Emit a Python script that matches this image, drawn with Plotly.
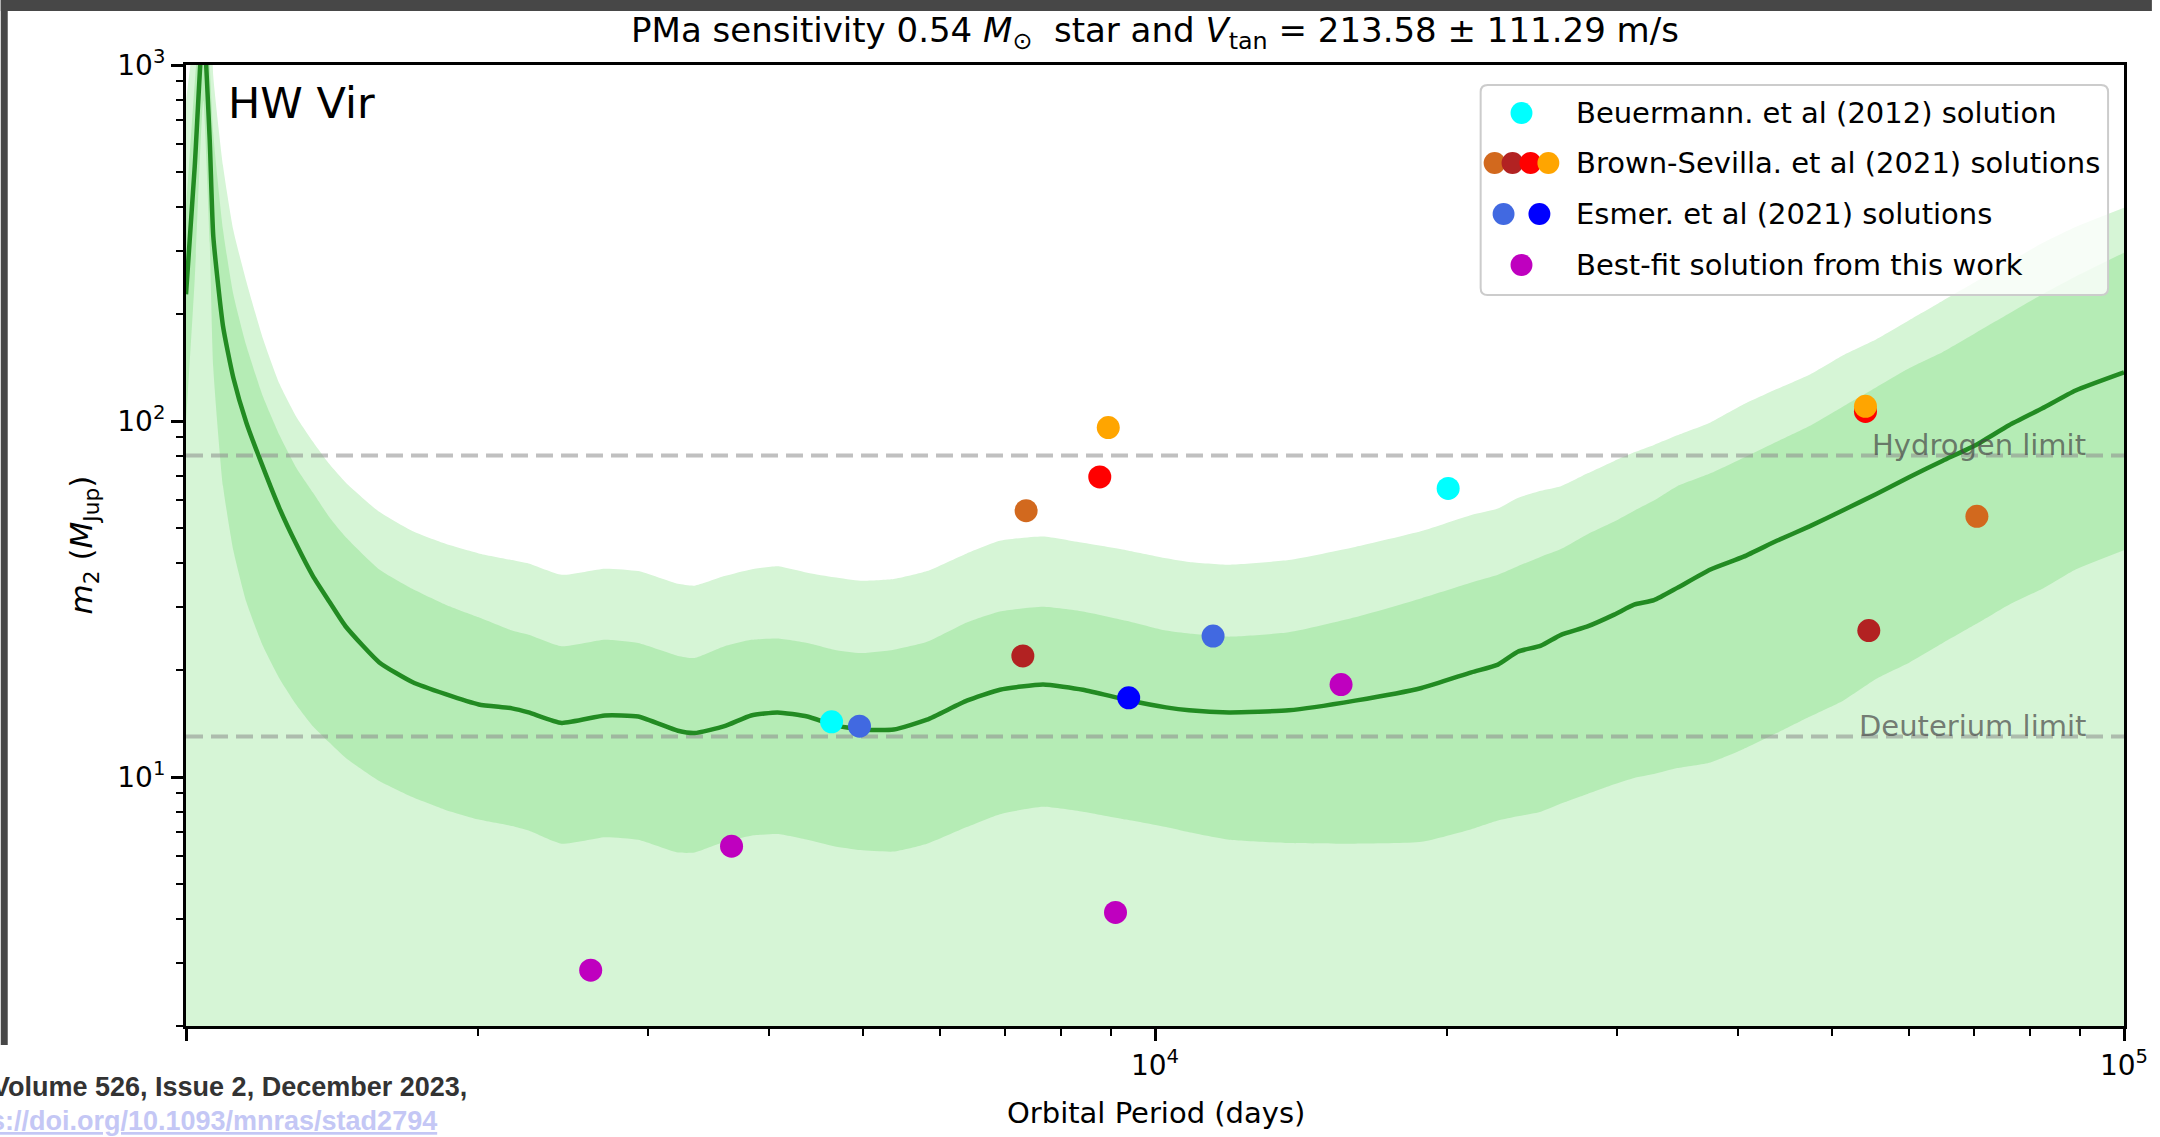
import math
import plotly.graph_objects as go

# ---------------- sensitivity curve (orbital period in days, mass in M_Jup) ----------------
period_days = [1000, 1021, 1042, 1058, 1067, 1092, 1119, 1154, 1201, 1249, 1299, 1352,
               1406, 1463, 1583, 1712, 1853, 2005, 2170, 2257, 2442, 2706, 2928, 3219,
               3348, 3595, 3830, 4078, 4378, 4664, 4968, 5375, 5817, 6394, 6918, 7664,
               8425, 9337, 10264,
               10846, 11926, 13740, 16090, 18840, 21210, 22590, 23680, 25020, 26240, 27950,
               29780, 31220, 32730,
               34590, 37430, 40500, 43820, 47420, 51300, 55520, 60070, 65010, 70350, 76100,
               82370, 89130, 100000]

mass_median = [227, 520, 1318, 614, 330, 184.5, 132.4, 99.1, 74.1, 56.8, 45.2, 36.7,
               31.1, 26.4, 21.0, 18.5, 17.1, 16.0, 15.6, 15.2, 14.2, 14.9, 14.8, 13.5,
               13.3, 13.9, 14.9, 15.2, 14.8, 14.0, 13.6, 13.6, 14.5, 16.4, 17.6, 18.2,
               17.6, 16.5, 15.7,
               15.4, 15.2, 15.4, 16.4, 17.8, 19.7, 20.7, 22.5, 23.4, 25.1, 26.5,
               28.6, 30.5, 31.4,
               34.0, 38.3, 41.6, 46.1, 50.7, 56.2, 62.4, 69.7, 77.4, 85.7, 97.3,
               108.6, 121.9, 137.1]

mass_1sig_hi = [398, 891, 1778, 1000, 640, 344, 227, 163, 117, 91.2, 74.1, 63.0,
                53.7, 47.1, 38.3, 33.8, 30.5, 28.1, 25.8, 25.1, 23.3, 24.3, 23.8, 21.9,
                21.6, 23.3, 24.3, 24.5, 23.8, 22.8, 22.3, 22.8, 24.0, 27.2, 29.2, 30.1,
                29.2, 27.5, 25.8,
                25.3, 24.8, 25.5, 28.1, 31.8, 35.2, 37.0, 39.1, 41.6, 43.7, 48.1,
                52.2, 56.0, 59.8,
                65.6, 71.3, 78.9, 87.5, 97.0, 109.9, 124.5, 140.9, 156.3, 177.0, 200.4,
                227.0, 254.7, 297.2]

mass_1sig_lo = [100, 251, 794, 316, 141, 65.6, 43.4, 31.1, 23.3, 18.9, 16.0, 13.9,
                12.5, 11.3, 9.75, 8.79, 8.09, 7.60, 7.29, 7.08, 6.50, 6.78, 6.67, 6.14,
                6.14, 6.58, 6.85, 6.92, 6.67, 6.40, 6.24, 6.18, 6.50, 7.24, 7.87, 8.26,
                8.00, 7.60, 7.24,
                7.00, 6.67, 6.53, 6.50, 6.58, 7.14, 7.55, 7.76, 8.00, 8.43, 8.97,
                9.55, 9.95, 10.2,
                10.6, 11.0, 12.0, 13.3, 14.8, 16.4, 18.9, 21.0, 23.8, 26.9, 30.5,
                33.8, 38.3, 43.4]

mass_2sig_hi = [794, 1259, 1995, 1585, 929, 520, 344, 247, 170, 127, 103, 87.5,
                75.7, 67.0, 55.6, 49.1, 45.2, 42.5, 40.7, 39.8, 37.0, 38.5, 37.9, 34.9,
                34.5, 36.7, 38.3, 39.1, 37.5, 36.4, 35.6, 36.0, 37.9, 42.5, 46.1, 47.4,
                45.5, 43.4, 41.2,
                40.2, 39.5, 40.7, 44.3, 49.1, 54.5, 56.8, 60.8, 63.7, 65.6, 71.3,
                77.3, 81.7, 85.7,
                91.2, 99.1, 111.4, 123.0, 135.2, 153.1, 169.8, 192.3, 217.8, 246.6, 279.3,
                316.2, 350.8, 397.2]

# ---------------- published and best-fit companion solutions ----------------
beuermann_period = [4637, 20070]
beuermann_mass = [14.3, 64.7]

brown_colors = ["chocolate", "firebrick", "red", "orange"]
brown_period = [[7362, 70500], [7305, 54530], [8770, 54100], [8949, 54100]]
brown_mass = [[56.0, 54.0], [21.9, 25.8], [69.7, 106.4], [95.9, 110.0]]

esmer_colors = ["royalblue", "blue"]
esmer_period = [[4955, 11480], [9394]]
esmer_mass = [[13.9, 24.9], [16.7]]

bestfit_period = [2616, 3656, 9104, 15560]
bestfit_mass = [2.87, 6.40, 4.17, 18.2]

HYDROGEN_LIMIT = 80.0
DEUTERIUM_LIMIT = 13.0

x_ticks = [1e3, 1e4, 1e5]
x_ticklabels = ["", "10<sup>4</sup>", "10<sup>5</sup>"]
y_ticks = [10, 100, 1000]
y_ticklabels = ["10<sup>1</sup>", "10<sup>2</sup>", "10<sup>3</sup>"]

legend_labels = ["Beuermann. et al (2012) solution",
                 "Brown-Sevilla. et al (2021) solutions",
                 "Esmer. et al (2021) solutions",
                 "Best-fit solution from this work"]

# ---------------- page geometry (pixels) ----------------
W, H = 2160, 1137
ML, MR, MT, MB = 186, 28, 65, 111
PW, PH = W - ML - MR, H - MT - MB
FONT = "DejaVu Sans"
MAGENTA = "#BF00BF"
LIGHT_GREEN = "rgb(214,245,214)"
MID_GREEN = "rgb(181,236,181)"
LINE_GREEN = "#228B22"
SMOOTH = dict(shape="spline", smoothing=0.5)


def px(xp):
    return (xp - ML) / PW


def py(yp):
    return (MT + PH - yp) / PH


fig = go.Figure()

# outer (2-sigma) envelope, filled down to the bottom of the axes
fig.add_trace(go.Scatter(x=period_days, y=mass_2sig_hi, mode="lines", line=dict(width=0, **SMOOTH),
                         fill="tozeroy", fillcolor=LIGHT_GREEN, hoverinfo="skip", showlegend=False))
# inner (1-sigma) envelope
fig.add_trace(go.Scatter(x=period_days, y=mass_1sig_lo, mode="lines", line=dict(width=0, **SMOOTH),
                         hoverinfo="skip", showlegend=False))
fig.add_trace(go.Scatter(x=period_days, y=mass_1sig_hi, mode="lines", line=dict(width=0, **SMOOTH),
                         fill="tonexty", fillcolor=MID_GREEN, hoverinfo="skip", showlegend=False))

# hydrogen / deuterium burning limits
for lim in (HYDROGEN_LIMIT, DEUTERIUM_LIMIT):
    fig.add_trace(go.Scatter(x=[x_ticks[0], x_ticks[-1]], y=[lim, lim], mode="lines",
                             line=dict(color="rgba(140,140,140,0.55)", width=4, dash="17px,8px"),
                             hoverinfo="skip", showlegend=False))

# median sensitivity curve
fig.add_trace(go.Scatter(x=period_days, y=mass_median, mode="lines",
                         line=dict(color=LINE_GREEN, width=4.5, **SMOOTH), showlegend=False))

MSIZE = 23
fig.add_trace(go.Scatter(x=beuermann_period, y=beuermann_mass, mode="markers",
                         marker=dict(color="cyan", size=MSIZE), showlegend=False))
for c, p, m in zip(brown_colors, brown_period, brown_mass):
    fig.add_trace(go.Scatter(x=p, y=m, mode="markers", marker=dict(color=c, size=MSIZE),
                             showlegend=False))
for c, p, m in zip(esmer_colors, esmer_period, esmer_mass):
    fig.add_trace(go.Scatter(x=p, y=m, mode="markers", marker=dict(color=c, size=MSIZE),
                             showlegend=False))
fig.add_trace(go.Scatter(x=bestfit_period, y=bestfit_mass, mode="markers",
                         marker=dict(color=MAGENTA, size=MSIZE), showlegend=False))

shapes = []
annotations = []

# dark frame strips at the top and left of the page
shapes.append(dict(type="rect", xref="paper", yref="paper", x0=px(0), x1=px(W), y0=py(11), y1=py(0),
                   fillcolor="#474747", line=dict(width=0), layer="above"))
shapes.append(dict(type="rect", xref="paper", yref="paper", x0=px(0), x1=px(7), y0=py(1045), y1=py(0),
                   fillcolor="#474747", line=dict(width=0), layer="above"))

# hand-built legend box with rounded corners
lx0, lx1, ly0, ly1, rad = 1486, 2116, 85, 295, 7
path = (f"M {px(lx0 + rad)},{py(ly0)} L {px(lx1 - rad)},{py(ly0)} "
        f"Q {px(lx1)},{py(ly0)} {px(lx1)},{py(ly0 + rad)} L {px(lx1)},{py(ly1 - rad)} "
        f"Q {px(lx1)},{py(ly1)} {px(lx1 - rad)},{py(ly1)} L {px(lx0 + rad)},{py(ly1)} "
        f"Q {px(lx0)},{py(ly1)} {px(lx0)},{py(ly1 - rad)} L {px(lx0)},{py(ly0 + rad)} "
        f"Q {px(lx0)},{py(ly0)} {px(lx0 + rad)},{py(ly0)} Z")
shapes.append(dict(type="path", xref="paper", yref="paper", path=path,
                   fillcolor="rgba(255,255,255,0.8)", line=dict(color="#cccccc", width=2),
                   layer="above"))

legend_rows_y = [113, 163, 214, 265]
legend_glyphs = [
    [(1527, "cyan")],
    [(1500, "chocolate"), (1518, "firebrick"), (1536, "red"), (1554, "orange")],
    [(1509, "royalblue"), (1545, "blue")],
    [(1527, MAGENTA)],
]
r = 11
for yrow, glyphs, label in zip(legend_rows_y, legend_glyphs, legend_labels):
    for gx, gc in glyphs:
        shapes.append(dict(type="circle", xref="paper", yref="paper",
                           x0=px(gx - r), x1=px(gx + r), y0=py(yrow + r), y1=py(yrow - r),
                           fillcolor=gc, line=dict(width=0), layer="above"))
    annotations.append(dict(text=label, xref="paper", yref="paper", x=px(1580), y=py(yrow),
                            xanchor="left", yanchor="middle", showarrow=False,
                            font=dict(family=FONT, size=29, color="black")))

# limit labels
for lim, name in ((HYDROGEN_LIMIT, "Hydrogen limit"), (DEUTERIUM_LIMIT, "Deuterium limit")):
    annotations.append(dict(text=name, xref="paper", yref="y", x=px(2096), y=math.log10(lim),
                            xanchor="right", yanchor="bottom", yshift=-8, showarrow=False,
                            font=dict(family=FONT, size=29, color="rgba(70,70,70,0.7)")))

# target name
annotations.append(dict(text="HW Vir", xref="paper", yref="paper", x=px(226), y=py(103),
                        xanchor="left", yanchor="middle", showarrow=False,
                        font=dict(family=FONT, size=43, color="black")))

# axis titles
annotations.append(dict(text="Orbital Period (days)", xref="paper", yref="paper",
                        x=px(1160), y=py(1113), xanchor="center", yanchor="middle",
                        showarrow=False, font=dict(family=FONT, size=29, color="black")))
annotations.append(dict(text="<i>m</i><sub>2</sub> (<i>M</i><sub>Jup</sub>)", xref="paper",
                        yref="paper", x=px(83), y=py(545), xanchor="center", yanchor="middle",
                        textangle=-90, showarrow=False,
                        font=dict(family=FONT, size=31, color="black")))

# citation footer
annotations.append(dict(text="<b>Volume 526, Issue 2, December 2023,</b>", xref="paper", yref="paper",
                        x=px(470), y=py(1087), xanchor="right", yanchor="middle", showarrow=False,
                        font=dict(family="Liberation Sans", size=27, color="#333333")))
annotations.append(dict(text="<b><u>https://doi.org/10.1093/mnras/stad2794</u></b>", xref="paper",
                        yref="paper", x=px(440), y=py(1121), xanchor="right", yanchor="middle",
                        showarrow=False,
                        font=dict(family="Liberation Sans", size=27, color="rgb(196,199,245)")))

x_minor = [k * 10 ** e for e in (3, 4) for k in range(2, 10)]
y_minor = [k * 10 ** e for e in (0, 1, 2) for k in range(2, 10)]

axis_common = dict(type="log", showline=True, linecolor="black", linewidth=3, mirror=True,
                   ticks="outside", ticklen=12, tickwidth=2.5, tickcolor="black",
                   showgrid=False, zeroline=False,
                   tickfont=dict(family=FONT, size=28, color="black"))

fig.update_layout(
    width=W, height=H,
    margin=dict(l=ML, r=MR, t=MT, b=MB),
    paper_bgcolor="white", plot_bgcolor="white",
    showlegend=False,
    title=dict(text="PMa sensitivity 0.54 <i>M</i><sub>⊙</sub>  star and "
                    "<i>V</i><sub>tan</sub> = 213.58 ± 111.29 m/s",
               xref="paper", x=0.5, xanchor="center", yref="container", y=1 - 30 / H,
               yanchor="middle", font=dict(family=FONT, size=34, color="black")),
    xaxis=dict(range=[3, 5], tickmode="array", tickvals=x_ticks, ticktext=x_ticklabels,
               minor=dict(tickmode="array", tickvals=x_minor, ticks="outside", ticklen=7,
                          tickwidth=2, tickcolor="black", showgrid=False),
               **axis_common),
    yaxis=dict(range=[math.log10(2), 3], tickmode="array", tickvals=y_ticks, ticktext=y_ticklabels,
               minor=dict(tickmode="array", tickvals=y_minor, ticks="outside", ticklen=7,
                          tickwidth=2, tickcolor="black", showgrid=False),
               **axis_common),
    shapes=shapes,
    annotations=annotations,
)

fig.write_html("out.html")
